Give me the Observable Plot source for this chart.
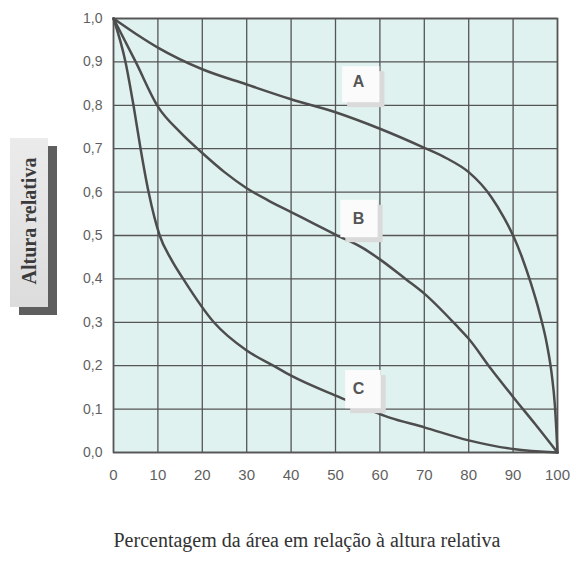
<!DOCTYPE html>
<html>
<head>
<meta charset="utf-8">
<script src="https://cdn.jsdelivr.net/npm/d3@7"></script>
<script src="https://cdn.jsdelivr.net/npm/@observablehq/plot@0.6"></script>
<style>
  html, body { margin: 0; padding: 0; background: #ffffff; }
  #wrap { position: relative; width: 579px; height: 563px; }
  #ybox {
    position: absolute; left: 10px; top: 138px; width: 38px; height: 169px;
    background: linear-gradient(to bottom, #ebebeb, #dcdcdc);
    box-shadow: 9px 8px 0 #5e5e5e;
  }
  #ylabel {
    position: absolute; left: 29px; top: 221px;
    transform: translate(-50%, -50%) rotate(-90deg);
    white-space: nowrap;
    font-family: "Liberation Serif", "Times New Roman", serif;
    font-weight: bold; font-size: 20px; color: #3a3a3a;
  }
  #chart { position: absolute; left: 0; top: 0; }
</style>
</head>
<body>
<div id="wrap">
  <div id="ybox"></div>
  <div id="ylabel">Altura relativa</div>
  <div id="chart"></div>
</div>
<script>
// Tick values
const xTicks = [0, 10, 20, 30, 40, 50, 60, 70, 80, 90, 100];
const yTicks = [0, 0.1, 0.2, 0.3, 0.4, 0.5, 0.6, 0.7, 0.8, 0.9, 1.0];

// Curve A
const aX = [0, 5, 10, 20, 30, 40, 50, 60, 70, 75, 80, 85, 88, 90, 92, 94, 96, 97.6, 98.7, 99.4, 100];
const aY = [1.0, 0.965, 0.933, 0.883, 0.848, 0.814, 0.784, 0.746, 0.702, 0.678, 0.646, 0.59, 0.54, 0.50, 0.45, 0.39, 0.32, 0.25, 0.18, 0.11, 0.0];
// Curve B
const bX = [0, 5, 10, 15, 20, 25, 30, 35, 40, 45, 50, 56, 60, 66, 70, 77, 80, 85, 90, 95, 100];
const bY = [1.0, 0.9, 0.797, 0.738, 0.69, 0.646, 0.609, 0.58, 0.554, 0.528, 0.502, 0.472, 0.445, 0.398, 0.366, 0.295, 0.262, 0.193, 0.128, 0.065, 0.0];
// Curve C
const cX = [0, 2.7, 4.5, 6.1, 7.9, 10.4, 13, 15.7, 22.6, 30, 36, 40, 51, 62, 70, 80, 90, 100];
const cY = [1.0, 0.9, 0.8, 0.7, 0.6, 0.5, 0.445, 0.4, 0.3, 0.235, 0.2, 0.177, 0.127, 0.081, 0.058, 0.028, 0.008, 0.0];

// Curve labels (annotation boxes)
const labels = ["A", "B", "C"];
const labelX = [55.2, 55.2, 55.2];
const labelY = [0.855, 0.539, 0.147];
const boxX1 = [51.6, 51.2, 52.3];
const boxX2 = [60.0, 59.6, 60.3];
const boxTop = [0.889, 0.581, 0.189];
const boxBottom = [0.806, 0.495, 0.101];

const xTitle = "Percentagem da área em relação à altura relativa";

const curves = [];
[["A", aX, aY], ["B", bX, bY], ["C", cX, cY]].forEach(([name, xs, ys]) => {
  xs.forEach((x, i) => curves.push({name, x, y: ys[i]}));
});
const boxes = labels.map((label, i) => ({
  label, lx: labelX[i], ly: labelY[i],
  x1: boxX1[i], x2: boxX2[i], y1: boxBottom[i], y2: boxTop[i]
}));

const fmtY = d => d.toFixed(1).replace(".", ",");

const chart = Plot.plot({
  width: 579,
  height: 563,
  marginLeft: 113,
  marginRight: 22,
  marginTop: 18,
  marginBottom: 111,
  x: {domain: [0, 100]},
  y: {domain: [0, 1]},
  style: {fontFamily: "'Liberation Sans', Arial, sans-serif", color: "#5f5f5f", background: "transparent"},
  marks: [
    Plot.frame({fill: "#e0f2ef", stroke: null}),
    Plot.gridX(xTicks, {stroke: "#555", strokeOpacity: 1, strokeWidth: 1.3}),
    Plot.gridY(yTicks, {stroke: "#555", strokeOpacity: 1, strokeWidth: 1.3}),
    Plot.frame({stroke: "#555", strokeWidth: 1.6}),
    Plot.axisX({ticks: xTicks, tickSize: 0, tickPadding: 17, fontSize: 15, label: null, tickFormat: d => String(d)}),
    Plot.axisY({ticks: yTicks, tickSize: 0, tickPadding: 11, fontSize: 14, label: null, tickFormat: fmtY}),
    Plot.line(curves, {x: "x", y: "y", z: "name", curve: "monotone-x", stroke: "#4d4d4d", strokeWidth: 2.5}),
    Plot.rect(boxes, {x1: "x1", x2: "x2", y1: "y1", y2: "y2", fill: "#dadada", dx: 5, dy: 5}),
    Plot.rect(boxes, {x1: "x1", x2: "x2", y1: "y1", y2: "y2", fill: "#fbfbfb"}),
    Plot.text(boxes, {x: "lx", y: "ly", text: "label", fontSize: 16, fontWeight: "bold", fill: "#555"}),
    Plot.text([xTitle], {frameAnchor: "bottom-left", dy: 88, textAnchor: "start", lineAnchor: "middle",
      fontFamily: "'Liberation Serif', 'Times New Roman', serif", fontSize: 20, fill: "#333"})
  ]
});
document.getElementById("chart").appendChild(chart);
</script>
</body>
</html>
